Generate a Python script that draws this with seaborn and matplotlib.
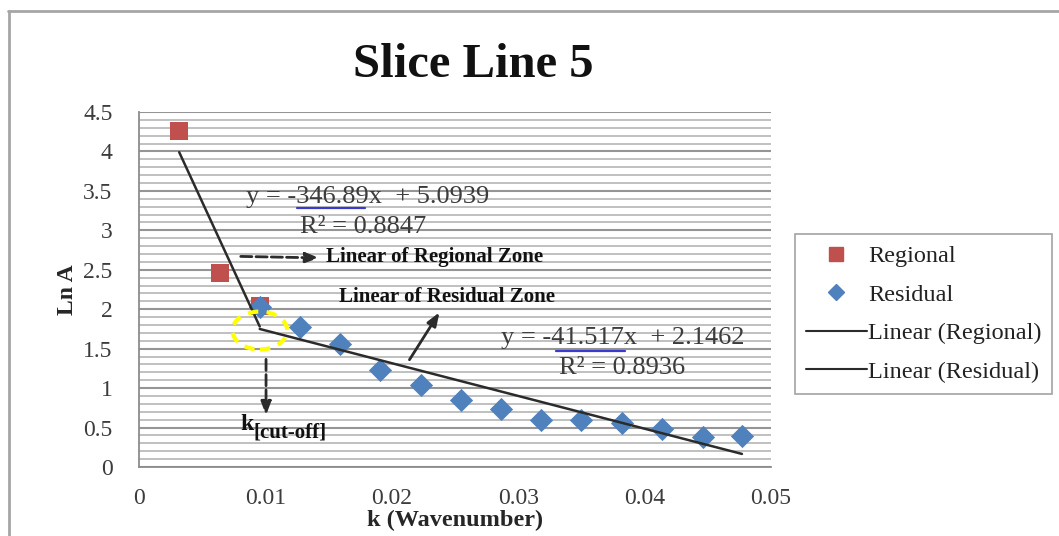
import numpy as np
import pandas as pd
import seaborn as sns
import matplotlib
matplotlib.use("Agg")
import matplotlib.pyplot as plt
from matplotlib.lines import Line2D
from matplotlib.patches import Ellipse
from matplotlib.ticker import MultipleLocator

# ---- data ----
regional_k = [0.00318, 0.00637, 0.00955]
regional_lnA = [4.26, 2.46, 2.04]
residual_k = [0.00955, 0.0127, 0.0159, 0.0191, 0.0223, 0.0255, 0.0286,
              0.0318, 0.0350, 0.0382, 0.0414, 0.0446, 0.0477]
residual_lnA = [2.03, 1.78, 1.56, 1.23, 1.04, 0.85, 0.73,
                0.59, 0.59, 0.56, 0.48, 0.38, 0.39]
reg_slope, reg_intercept, reg_r2 = -346.89, 5.0939, 0.8847
res_slope, res_intercept, res_r2 = -41.517, 2.1462, 0.8936
x_ticks = [0, 0.01, 0.02, 0.03, 0.04, 0.05]
x_tick_labels = ["0", "0.01", "0.02", "0.03", "0.04", "0.05"]
y_ticks = [0, 0.5, 1, 1.5, 2, 2.5, 3, 3.5, 4, 4.5]
y_tick_labels = ["0", "0.5", "1", "1.5", "2", "2.5", "3", "3.5", "4", "4.5"]
legend_labels = ["Regional", "Residual", "Linear (Regional)", "Linear (Residual)"]

sns.set_style("white")
plt.rcParams["font.family"] = ["Liberation Serif", "DejaVu Serif"]

RED = "#C0504D"
BLUE = "#4F81BD"
GRAYTXT = "#3c3c3c"

fig = plt.figure(figsize=(10.59, 5.36), dpi=100)
ax = fig.add_axes([139 / 1059, 1 - 467 / 536, (771 - 139) / 1059, (467 - 112) / 536])

df_reg = pd.DataFrame({"k": regional_k, "lnA": regional_lnA})
df_res = pd.DataFrame({"k": residual_k, "lnA": residual_lnA})

# trend lines from the reported equations
trend_reg = pd.DataFrame({"k": [min(regional_k), max(regional_k)]})
trend_reg["lnA"] = reg_slope * trend_reg["k"] + reg_intercept
trend_res = pd.DataFrame({"k": [min(residual_k), max(residual_k)]})
trend_res["lnA"] = res_slope * trend_res["k"] + res_intercept

sns.scatterplot(data=df_reg, x="k", y="lnA", marker="s", s=180, color=RED,
                edgecolor=RED, linewidth=0, ax=ax, zorder=3)
sns.scatterplot(data=df_res, x="k", y="lnA", marker="D", s=140, color=BLUE,
                edgecolor=BLUE, linewidth=0, ax=ax, zorder=4)
sns.lineplot(data=trend_reg, x="k", y="lnA", color="#2b2b2b", lw=1.8, ax=ax, zorder=5)
sns.lineplot(data=trend_res, x="k", y="lnA", color="#2b2b2b", lw=1.8, ax=ax, zorder=5)

ax.set_xlim(0, 0.05)
ax.set_ylim(0, 4.5)
ax.set_xticks(x_ticks)
ax.set_xticklabels(x_tick_labels)
ax.set_yticks(y_ticks)
ax.set_yticklabels(y_tick_labels)
ax.yaxis.set_minor_locator(MultipleLocator(0.1))
ax.grid(axis="y", which="minor", color="#c0c0c0", lw=1.4)
ax.grid(axis="y", which="major", color="#959595", lw=1.5)
ax.set_axisbelow(True)
for s in ["top", "right"]:
    ax.spines[s].set_visible(False)
for s in ["left", "bottom"]:
    ax.spines[s].set_color("#8c8c8c")
    ax.spines[s].set_linewidth(1.3)
ax.tick_params(axis="both", which="major", direction="out", length=7, width=1.3,
               color="#8c8c8c", labelsize=17, labelcolor=GRAYTXT)
ax.tick_params(axis="y", which="major", pad=12)
ax.tick_params(axis="x", which="major", pad=8)
ax.tick_params(axis="y", which="minor", length=0)

ax.set_xlabel("k (Wavenumber)", fontsize=17.5, fontweight="bold", labelpad=1)
ax.set_ylabel("Ln A", fontsize=17, fontweight="bold", labelpad=4)

fig.text(473 / 1059, 1 - 65 / 536, "Slice Line 5", fontsize=35, fontweight="bold",
         ha="center", va="center", color="#111111")

# equations
ax.text(0.01810, 3.42, "y = -346.89x  + 5.0939", fontsize=19, color=GRAYTXT,
        ha="center", va="center")
ax.text(0.01772, 3.04, "R² = 0.8847", fontsize=19, color=GRAYTXT,
        ha="center", va="center")
ax.plot([0.0125, 0.01788], [3.28, 3.28], color="#3a3acf", lw=1.6, zorder=6)
ax.text(0.03829, 1.635, "y = -41.517x  + 2.1462", fontsize=19, color=GRAYTXT,
        ha="center", va="center")
ax.text(0.03821, 1.255, "R² = 0.8936", fontsize=19, color=GRAYTXT,
        ha="center", va="center")
ax.plot([0.0330, 0.03845], [1.47, 1.47], color="#3a3acf", lw=1.6, zorder=6)

# annotations
ax.text(0.01479, 2.66, "Linear of Regional Zone", fontsize=15, fontweight="bold",
        ha="left", va="center", color="#111111")
ax.annotate("", xy=(0.01448, 2.65), xytext=(0.00783, 2.67),
            arrowprops=dict(arrowstyle="-|>,head_length=0.8,head_width=0.3",
                            lw=2, ls=(0, (4, 1.5)), color="#2b2b2b",
                            facecolor="white"))
ax.text(0.02437, 2.155, "Linear of Residual Zone", fontsize=15, fontweight="bold",
        ha="center", va="center", color="#111111")
ax.annotate("", xy=(0.02389, 1.99), xytext=(0.02128, 1.33),
            arrowprops=dict(arrowstyle="-|>,head_length=0.8,head_width=0.3",
                            lw=2, color="#2b2b2b", facecolor="white"))
ax.annotate("", xy=(0.01005, 0.62), xytext=(0.01005, 1.40),
            arrowprops=dict(arrowstyle="-|>,head_length=0.8,head_width=0.3",
                            lw=2, ls=(0, (4, 1.5)), color="#2b2b2b",
                            facecolor="white"))
ax.text(0.00799, 0.54, "k", fontsize=17, fontweight="bold", ha="left",
        va="center", color="#111111")
ax.text(0.00902, 0.44, "[cut-off]", fontsize=15, fontweight="bold", ha="left",
        va="center", color="#111111")

ell = Ellipse((0.00956, 1.73), 0.00434, 0.48, fill=False, edgecolor="#ffff00",
              lw=3, ls=(0, (2.5, 2)), zorder=6)
ax.add_patch(ell)

# legend
handles = [
    Line2D([], [], marker="s", color=RED, ls="none", markersize=10),
    Line2D([], [], marker="D", color=BLUE, ls="none", markersize=8),
    Line2D([], [], color="#2b2b2b", lw=1.5),
    Line2D([], [], color="#2b2b2b", lw=1.5),
]
leg = fig.legend(handles, legend_labels, loc="center left",
                 bbox_to_anchor=(795 / 1059, 1 - 314 / 536), fontsize=17.5,
                 frameon=True, fancybox=False, edgecolor="#8c8c8c",
                 handlelength=2.5, handletextpad=0.05, borderpad=0.45,
                 labelspacing=0.68, borderaxespad=0)
leg.get_frame().set_linewidth(1.2)
for t in leg.get_texts():
    t.set_color("#222222")

# outer chart border (left and top visible in the crop)
fig.add_artist(Line2D([9 / 1059, 9 / 1059], [0, 1 - 11 / 536], color="#a6a6a6",
                      lw=2, transform=fig.transFigure))
fig.add_artist(Line2D([8 / 1059, 1], [1 - 11 / 536, 1 - 11 / 536], color="#a6a6a6",
                      lw=2, transform=fig.transFigure))

fig.savefig("out.png", dpi=100)
